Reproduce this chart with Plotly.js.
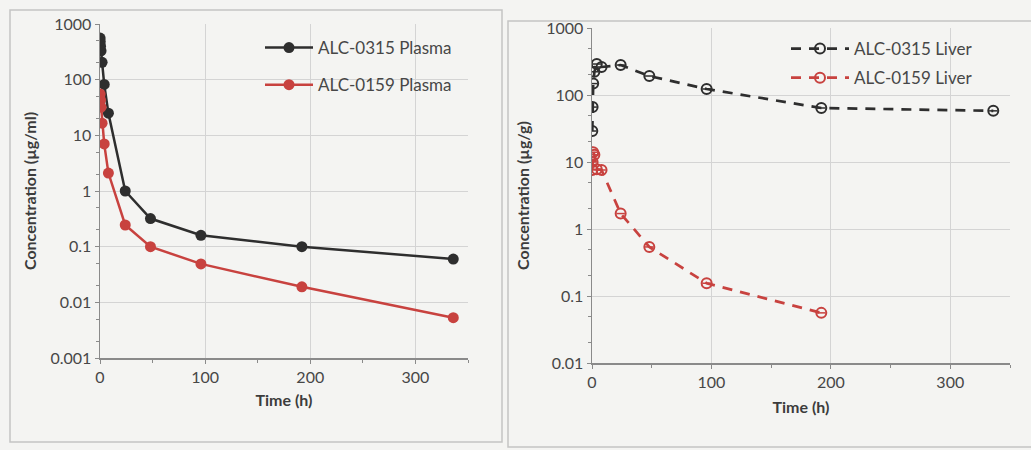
<!DOCTYPE html>
<html>
<head>
<meta charset="utf-8">
<script src="https://cdn.plot.ly/plotly-3.0.1.min.js"></script>
<style>html,body{margin:0;padding:0;background:#f4f4f2;}</style>
</head>
<body>
<div id="chart" style="width:1031px;height:450px;"></div>
<script>
// ---- data ----
const plasmaTime315 = [0.1, 0.25, 0.5, 1, 2, 4, 8, 24, 48, 96, 192, 336];
const plasma315 = [560, 480, 400, 330, 205, 82, 25, 1.0, 0.32, 0.16, 0.1, 0.06];
const plasmaTime159 = [0.1, 0.5, 1, 2, 4, 8, 24, 48, 96, 192, 336];
const plasma159 = [55, 43, 32, 16.5, 7.0, 2.1, 0.245, 0.1, 0.049, 0.019, 0.0053];
const liverTime315 = [0.25, 0.5, 1, 2, 4, 8, 24, 48, 96, 192, 336];
const liver315 = [29, 66, 148, 222, 290, 262, 280, 192, 123, 64, 58];
const liverTime159 = [0.25, 0.5, 1, 2, 4, 8, 24, 48, 96, 192];
const liver159 = [7.6, 10, 14, 12.8, 7.8, 7.6, 1.7, 0.54, 0.155, 0.056];
const names = ['ALC-0315 Plasma', 'ALC-0159 Plasma', 'ALC-0315 Liver', 'ALC-0159 Liver'];
const yTicksLeft = [0.001, 0.01, 0.1, 1, 10, 100, 1000];
const yTickTextLeft = ['0.001', '0.01', '0.1', '1', '10', '100', '1000'];
const yTicksRight = [0.01, 0.1, 1, 10, 100, 1000];
const yTickTextRight = ['0.01', '0.1', '1', '10', '100', '1000'];
const xTicks = [0, 100, 200, 300];

const BLACK = '#2e2e2e', RED = '#c8423f';
const FONT = 'Lato, "Open Sans", sans-serif';
const TXT = '#474747';

const traces = [
  {x: plasmaTime315, y: plasma315, name: names[0], mode: 'lines+markers', xaxis: 'x', yaxis: 'y',
   line: {color: BLACK, width: 2.5}, marker: {color: BLACK, size: 11}, legend: 'legend', legendgroup: 'a'},
  {x: plasmaTime159, y: plasma159, name: names[1], mode: 'lines+markers', xaxis: 'x', yaxis: 'y',
   line: {color: RED, width: 2.5}, marker: {color: RED, size: 11}, legend: 'legend', legendgroup: 'b'},
  {x: liverTime315, y: liver315, name: names[2], mode: 'lines+markers', xaxis: 'x2', yaxis: 'y2',
   line: {color: BLACK, width: 2.7, dash: '10px,8px'}, marker: {color: BLACK, size: 10, symbol: 'circle-open', line: {width: 2, color: BLACK}},
   legend: 'legend2', legendgroup: 'c'},
  {x: liverTime315, y: liver315, mode: 'markers', xaxis: 'x2', yaxis: 'y2', showlegend: false, hoverinfo: 'skip',
   marker: {color: BLACK, size: 6, symbol: 'line-ew', line: {width: 1.5, color: BLACK}}},
  {x: liverTime159, y: liver159, name: names[3], mode: 'lines+markers', xaxis: 'x2', yaxis: 'y2',
   line: {color: RED, width: 2.7, dash: '10px,8px'}, marker: {color: RED, size: 10, symbol: 'circle-open', line: {width: 2, color: RED}},
   legend: 'legend2', legendgroup: 'd'},
  {x: liverTime159, y: liver159, mode: 'markers', xaxis: 'x2', yaxis: 'y2', showlegend: false, hoverinfo: 'skip',
   marker: {color: RED, size: 6, symbol: 'line-ew', line: {width: 1.5, color: RED}}}
];

const W = 1031, H = 450;
const common = {
  showgrid: true, gridcolor: '#d4d4d4', gridwidth: 1, showline: true, linecolor: '#8a8a8a', linewidth: 1.5,
  ticks: 'outside', ticklen: 4, tickcolor: '#8a8a8a', tickfont: {family: FONT, size: 16, color: TXT},
  zeroline: false
};
const titleFont = {family: FONT, size: 16, color: '#3c3c3c', weight: 'bold'};
const layout = {
  width: W, height: H,
  margin: {l: 0, r: 0, t: 0, b: 0},
  paper_bgcolor: '#f4f4f2', plot_bgcolor: 'rgba(0,0,0,0)',
  font: {family: FONT, color: TXT},
  showlegend: true,
  xaxis: Object.assign({}, common, {domain: [100/W, 468/W], range: [0, 350], tickvals: xTicks,
    minor: {dtick: 50, ticks: 'outside', ticklen: 3, tickcolor: '#8a8a8a', showgrid: false},
    title: {text: 'Time (h)', font: titleFont, standoff: 10}, anchor: 'y'}),
  yaxis: Object.assign({}, common, {domain: [1 - 358/H, 1 - 24/H], type: 'log', range: [-3, 3],
    tickvals: yTicksLeft, ticktext: yTickTextLeft,
    minor: {ticks: 'outside', ticklen: 3, tickcolor: '#8a8a8a', showgrid: false},
    title: {text: 'Concentration (µg/ml)', font: titleFont, standoff: 10}, anchor: 'x'}),
  xaxis2: Object.assign({}, common, {domain: [592/W, 1010/W], range: [0, 350], tickvals: xTicks,
    minor: {dtick: 50, ticks: 'outside', ticklen: 3, tickcolor: '#8a8a8a', showgrid: false},
    title: {text: 'Time (h)', font: titleFont, standoff: 12}, anchor: 'y2'}),
  yaxis2: Object.assign({}, common, {domain: [1 - 363/H, 1 - 28/H], type: 'log', range: [-2, 3],
    tickvals: yTicksRight, ticktext: yTickTextRight,
    minor: {ticks: 'outside', ticklen: 3, tickcolor: '#8a8a8a', showgrid: false},
    title: {text: 'Concentration (µg/g)', font: titleFont, standoff: 12}, anchor: 'x2'}),
  legend: {x: 260/W, y: 1 - 30/H, xanchor: 'left', yanchor: 'top', bgcolor: 'rgba(0,0,0,0)',
    font: {family: FONT, size: 17, color: TXT}, itemwidth: 48, traceorder: 'grouped', tracegroupgap: 12},
  legend2: {x: 786/W, y: 1 - 31/H, xanchor: 'left', yanchor: 'top', bgcolor: 'rgba(0,0,0,0)',
    font: {family: FONT, size: 17, color: TXT}, itemwidth: 58, traceorder: 'grouped', tracegroupgap: 4},
  shapes: [
    {type: 'rect', xref: 'paper', yref: 'paper', x0: 10/W, x1: 502/W, y0: 1 - 442/H, y1: 1 - 10/H,
     line: {color: '#c4c4c4', width: 1.5}, layer: 'below'},
    {type: 'rect', xref: 'paper', yref: 'paper', x0: 508/W, x1: 1.02, y0: 1 - 447/H, y1: 1 - 21/H,
     line: {color: '#c4c4c4', width: 1.5}, layer: 'below'}
  ]
};
Plotly.newPlot('chart', traces, layout, {displayModeBar: false, staticPlot: true});
</script>
</body>
</html>
